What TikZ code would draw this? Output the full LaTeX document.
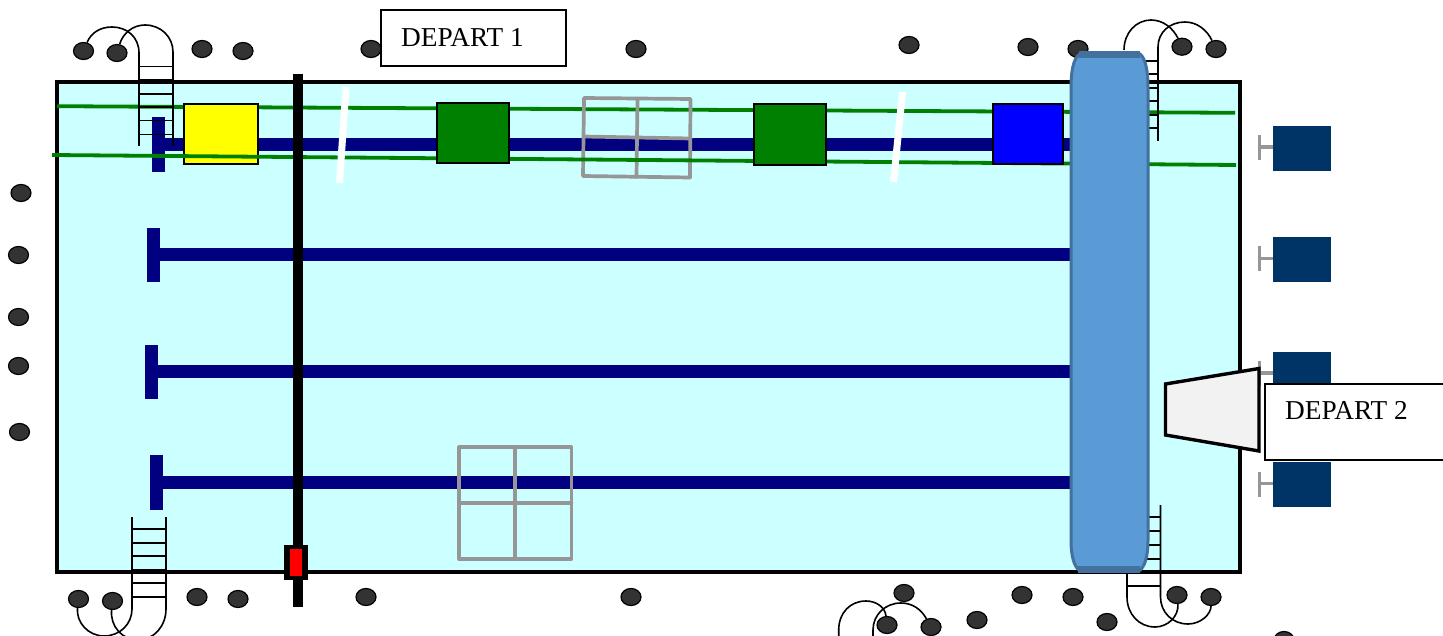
\documentclass[tikz,border=0pt]{standalone}
\usepackage{fontspec}
\setmainfont{Liberation Serif}
\definecolor{pool}{HTML}{CCFFFF}
\definecolor{navyline}{HTML}{000080}
\definecolor{greenline}{HTML}{008000}
\definecolor{cylfill}{HTML}{5B9BD5}
\definecolor{cylline}{HTML}{41719C}
\definecolor{block}{HTML}{003366}
\definecolor{dotfill}{HTML}{333333}
\definecolor{graytone}{HTML}{969696}
\definecolor{pureyellow}{HTML}{FFFF00}
\definecolor{pureblue}{HTML}{0000FF}
\definecolor{purered}{HTML}{FF0000}
\definecolor{funnelfill}{HTML}{F2F2F2}
\tikzset{
  dot/.style={draw=black,fill=dotfill,ellipse,inner sep=0pt,minimum width=20pt,minimum height=17pt,line width=1.2pt},
  rope/.style={draw=black,line width=1.6pt},
  lane/.style={draw=navyline,line width=13pt},
  bar/.style={fill=navyline},
  wire/.style={draw=greenline,line width=3.8pt},
  frame/.style={draw=graytone,line width=3.7pt,line join=round,line cap=round},
  cart/.style={draw=black,line width=2pt},
  label/.style={draw=black,fill=white,line width=2pt,inner sep=0pt},
  post/.style={draw=graytone,line width=3.7pt},
  slash/.style={draw=white,line width=7pt},
}
\usetikzlibrary{shapes.geometric}
\begin{document}
\begin{tikzpicture}[x=1pt,y=-1pt]
\useasboundingbox (0,0) rectangle (1443,636);
\begin{scope}
\clip (0,0) rectangle (1443,636);
% pool
\node[draw=black,fill=pool,line width=4.4pt,inner sep=0pt,minimum width=1183pt,minimum height=490pt] (pool) at (648.5,327) {};
% lanes
\coordinate (cylL1) at (1072,144.5);
\coordinate (cylL2) at (1072,255);
\coordinate (cylL3) at (1072,371.5);
\coordinate (cylL4) at (1072,482.5);
\node[bar,minimum width=13pt,minimum height=55pt,inner sep=0pt] (t1) at (158.3,144.5) {};
\node[bar,minimum width=13pt,minimum height=54pt,inner sep=0pt] (t2) at (153.5,255) {};
\node[bar,minimum width=13pt,minimum height=54pt,inner sep=0pt] (t3) at (151.2,371.5) {};
\node[bar,minimum width=13pt,minimum height=55pt,inner sep=0pt] (t4) at (156,482.5) {};
\draw[lane] (t1.center) -- (cylL1);
\draw[lane] (t2.center) -- (cylL2);
\draw[lane] (t3.center) -- (cylL3);
\draw[lane] (t4.center) -- (cylL4);
% upper wire
\coordinate (w1a) at (57,106.2);
\coordinate (w1b) at (1235,112.8);
\draw[wire] (w1a) -- (w1b);
% yellow cart lies under the lower wire
\node[cart,fill=pureyellow,inner sep=0pt,minimum width=74pt,minimum height=60pt] (yellowcart) at (221.3,133.7) {};
% grey frame 1
\draw[frame] (584,98) -- (690.5,99) -- (690,177.5) -- (583,176) -- cycle;
\draw[frame] (637.5,98.5) -- (636.5,177);
\draw[frame] (583.5,136.5) -- (690.5,138.5);
% lower wire
\coordinate (w2a) at (52,155);
\coordinate (w2b) at (1236,165);
\draw[wire] (w2a) -- (w2b);
% carts
\node[cart,fill=greenline,inner sep=0pt,minimum width=72pt,minimum height=60.3pt] (green1) at (472.7,132.8) {};
\node[cart,fill=greenline,inner sep=0pt,minimum width=72.3pt,minimum height=60.3pt] (green2) at (789.8,134.5) {};
\node[cart,fill=pureblue,inner sep=0pt,minimum width=70pt,minimum height=60pt] (bluecart) at (1028,133.7) {};
% white strokes
\coordinate (s1a) at (346,87); \coordinate (s1b) at (339.5,183);
\coordinate (s2a) at (902.5,92); \coordinate (s2b) at (893.5,182);
\draw[slash] (s1a) -- (s1b);
\draw[slash] (s2a) -- (s2b);
% grey frame 2
\draw[frame] (459.3,447) rectangle (571.4,559);
\draw[frame] (515.3,447) -- (515.3,559);
\draw[frame] (459.3,503) -- (571.4,503);
% ladders
\foreach \y in {66.7,80,94,107,120.7,134.7}
  \draw[rope] (139,\y) -- (173,\y);
\foreach \y in {61,74,88,101,115,128}
  \draw[rope] (1124,\y) -- (1158,\y);
\foreach \y in {529,543,556,570,583,597}
  \draw[rope] (132,\y) -- (166,\y);
\foreach \y in {517,531,545,559,572,586}
  \draw[rope] (1127,\y) -- (1160.5,\y);
% top left ropes
\node[dot] (d1) at (83.5,51) {};
\node[dot] (d2) at (117,53) {};
\draw[rope] (139,146) -- (139,53) .. controls (139,37) and (127,27) .. (112,27) .. controls (100,27) and (91,33) .. (d1);
\draw[rope] (173,146) -- (173,52) .. controls (173,37) and (161,25) .. (145,25) .. controls (133,25) and (123,33) .. (d2);
% top right ropes
\node[dot] (d3) at (1182,46.7) {};
\node[dot] (d4) at (1216,49) {};
\draw[rope] (1124,50) .. controls (1124,33) and (1136,20) .. (1151,20) .. controls (1163,20) and (1173,28) .. (d3);
\draw[rope] (1158,141) -- (1158,47) .. controls (1158,32) and (1170,22) .. (1185,22) .. controls (1197,22) and (1207,30) .. (d4);
% bottom left ropes
\node[dot] (d5) at (78.5,599) {};
\node[dot] (d6) at (112.5,601) {};
\draw[rope] (132,517) -- (132,609) .. controls (132,624) and (120,636) .. (104,636) .. controls (88,636) and (76,622) .. (d5);
\draw[rope] (166,517) -- (166,609) .. controls (166,626) and (154,640) .. (138,640) .. controls (122,640) and (110,626) .. (d6);
% bottom right ropes
\node[dot] (d7) at (1177,595) {};
\node[dot] (d8) at (1211,597) {};
\draw[rope] (1127,560) -- (1127,597) .. controls (1127,614) and (1139,627) .. (1155,627) .. controls (1168,627) and (1179,616) .. (d7);
\draw[rope] (1160.5,505) -- (1160.5,597) .. controls (1160.5,612) and (1172,624) .. (1188,624) .. controls (1201,624) and (1211,614) .. (d8);
% bottom middle ropes
\node[dot] (d9) at (887,625) {};
\node[dot] (d10) at (931,627) {};
\coordinate (r1) at (838.7,640); \coordinate (r2) at (873,640);
\draw[rope] (r1) -- (838.7,630) .. controls (838.7,613) and (850,601) .. (866,601) .. controls (876,601) and (885,607) .. (d9);
\draw[rope] (r2) -- (873,630) .. controls (873,615) and (885,603) .. (901,603) .. controls (912,603) and (921,609) .. (d10);
% remaining dots
\foreach \n/\x/\y in {a/202/49,b/243/51,c/371/49,e/636/49,f/909/45,g/1028/47,h/1078/49,
  i/21/193,j/18.5/255,k/18.5/317,l/18.5/366,m/19.5/432,
  n/197/597,o/238/599,p/366/597,q/631/597,
  r/904/593,s/977/620,t/1022/595,u/1073/597,v/1107/622,w/1284/640}
  \node[dot] (dot\n) at (\x,\y) {};
% cylinder
\path[fill=cylfill,draw=cylline,line width=3pt] (1082,53) -- (1138,53)
  .. controls (1144,55) and (1148,66) .. (1148,88) -- (1148,540)
  .. controls (1148,556) and (1145,567) .. (1139,571) -- (1080,571)
  .. controls (1074,567) and (1071,556) .. (1071,540) -- (1071,88)
  .. controls (1071,66) and (1075,55) .. (1082,53) -- cycle;
\fill[cylline] (1079,51) rectangle (1140,58.5);
\fill[cylline] (1078,565.5) rectangle (1140,572.5);
% black vertical track
\coordinate (trackT) at (298,74);
\coordinate (trackB) at (298,607);
\draw[line width=9.4pt,draw=black] (trackT) -- (trackB);
\node[fill=black,inner sep=0pt,minimum width=24pt,minimum height=35pt] (trolley) at (296,562.5) {};
\node[fill=purered,inner sep=0pt,minimum width=12pt,minimum height=27.5pt] (trolleycore) at (296,562.5) {};
% right blocks
\foreach \n/\y in {1/148.3,2/259.5,3/374,4/484.5} {
  \node[fill=block,inner sep=0pt,minimum width=58pt,minimum height=45pt] (blk\n) at (1302,\y) {};
  \coordinate (postT\n) at (1259.5,\y-13);
  \coordinate (postB\n) at (1259.5,\y+12);
  \draw[post] (postT\n) -- (postB\n);
  \draw[post] (1259.5,\y-1) -- (blk\n.west |- 0,\y-1);
}
% funnel
\draw[line width=3.4pt,fill=funnelfill] (1165.5,384) -- (1259,368.5) -- (1259,451) -- (1165.5,435) -- cycle;
% labels
\node[label,minimum width=185pt,minimum height=55.5pt,anchor=north west] (dep1) at (379.7,9.2) {};
\node[anchor=base west,inner sep=0pt,font=\fontsize{27.3}{30}\selectfont] (dep1t) at (401,47) {DEPART 1};
\node[label,minimum width=190pt,minimum height=75.5pt,anchor=north west] (dep2) at (1264.2,383) {};
\node[anchor=base west,inner sep=0pt,font=\fontsize{27.3}{30}\selectfont] (dep2t) at (1285,419.7) {DEPART 2};
\end{scope}
\end{tikzpicture}
\end{document}
